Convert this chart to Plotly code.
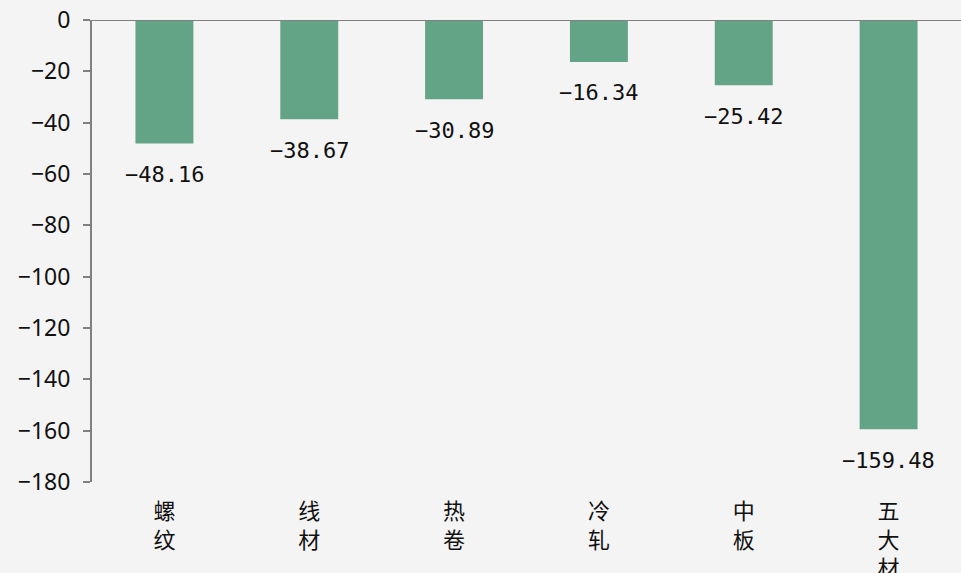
import plotly.graph_objects as go

categories = ["螺纹", "线材", "热卷", "冷轧", "中板", "五大材"]
values = [-48.16, -38.67, -30.89, -16.34, -25.42, -159.48]
y_ticks = [0, -20, -40, -60, -80, -100, -120, -140, -160, -180]

tick_text = ["<br>".join(list(c)) for c in categories]

fig = go.Figure()
fig.add_trace(go.Bar(
    x=categories, y=values, width=0.4,
    marker=dict(color="#63a487", line=dict(width=0)),
    hoverinfo="skip",
))

for c, v in zip(categories, values):
    fig.add_annotation(
        x=c, y=v, text=f"{v:.2f}".replace("-", "−"), showarrow=False,
        yanchor="middle", yshift=-31,
        font=dict(family="DejaVu Sans Mono", size=22, color="#111111"),
    )

fig.add_shape(type="line", xref="paper", yref="y", x0=0, x1=1, y0=0, y1=0,
              line=dict(color="#808080", width=2), layer="above")

fig.update_layout(
    width=961, height=573,
    margin=dict(l=92, r=0, t=20, b=91),
    paper_bgcolor="#f4f4f4", plot_bgcolor="#f4f4f4",
    showlegend=False,
    bargap=0.6,
)
fig.update_xaxes(
    tickmode="array", tickvals=categories, ticktext=tick_text,
    tickfont=dict(family="Noto Sans CJK SC", size=22, color="#111111"),
    showline=False, showgrid=False, ticks="", zeroline=False,
    ticklabelstandoff=14, automargin=False,
)
fig.update_yaxes(
    range=[-180, 0], tickmode="array", tickvals=y_ticks,
    ticktext=[str(t).replace("-", "−") for t in y_ticks],
    tickfont=dict(family="Noto Sans", size=23, color="#111111"),
    showline=True, linecolor="#808080", linewidth=2,
    ticks="outside", ticklen=7, tickcolor="#808080", tickwidth=2,
    showgrid=False, zeroline=False, ticklabelstandoff=8, automargin=False,
)

fig.write_html("out.html")
